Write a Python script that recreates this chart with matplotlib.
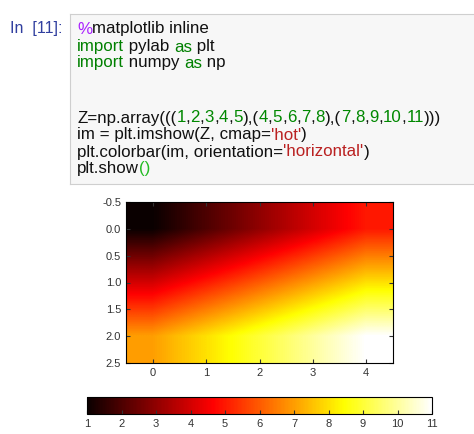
import matplotlib as mpl
mpl.use('Agg')
import matplotlib.pyplot as plt
import numpy as np

# data shown in the notebook cell
row0 = [1, 2, 3, 4, 5]
row1 = [4, 5, 6, 7, 8]
row2 = [7, 8, 9, 10, 11]
Z = np.array((row0, row1, row2))

W, H = 474, 434
plt.rcParams['font.family'] = ['Liberation Sans', 'DejaVu Sans']
fig = plt.figure(figsize=(W/100, H/100), dpi=100)

def px(x0, y0, x1, y1):
    # pixel box (top-left origin) -> figure fraction rect
    return [x0/W, 1 - y1/H, (x1-x0)/W, (y1-y0)/H]

# code cell background
cell = fig.add_axes(px(70, 14, 476, 184))
cell.set_facecolor('#f7f7f7')
cell.set_xticks([]); cell.set_yticks([])
for s in cell.spines.values():
    s.set_color('#cfcfcf')

fig.text(10/W, 1 - 33/H, 'In  [11]:', color='#303F9F', fontsize=11.5, va='baseline')

K, N, S, P, T = '#008000', '#008800', '#BA2121', '#AA22FF', '#111111'
lines = [
    (29, [('%', P), ('matplotlib inline', T)]),
    (47, [('import', K), (' pylab ', T), ('as', K), (' plt', T)]),
    (63, [('import', K), (' numpy ', T), ('as', K), (' np', T)]),
    (118, [('Z=np.array(((', T), ('1', N), (',', T), ('2', N), (',', T), ('3', N), (',', T),
           ('4', N), (',', T), ('5', N), ('),(', T), ('4', N), (',', T), ('5', N), (',', T),
           ('6', N), (',', T), ('7', N), (',', T), ('8', N), ('),(', T), ('7', N), (',', T),
           ('8', N), (',', T), ('9', N), (',', T), ('10', N), (',', T), ('11', N), (')))', T)]),
    (135, [('im = plt.imshow(Z, cmap=', T), ("'hot'", S), (')', T)]),
    (152, [('plt.colorbar(im, orientation=', T), ("'horizontal'", S), (')', T)]),
    (168, [('plt.show', T), ('()', '#22bb22')]),
]
FS = 12.2
fig.canvas.draw()
r = fig.canvas.get_renderer()

def width(s):
    # trailing spaces are dropped from extents, so pad with a bar
    t = fig.text(0, 0, s + '|', fontsize=FS)
    b = fig.text(0, 0, '|', fontsize=FS)
    w = t.get_window_extent(r).width - b.get_window_extent(r).width
    t.remove(); b.remove()
    return w

for y, toks in lines:
    prefix = ''
    for s, c in toks:
        x = 77 + (width(prefix) if prefix else 0)
        fig.text(x/W, 1 - (y + 4.5)/H, s, color=c, fontsize=FS, va='baseline')
        prefix += s

mpl.rcParams['xtick.direction'] = 'in'
mpl.rcParams['ytick.direction'] = 'in'
ax = fig.add_axes(px(126, 202, 393, 363))
im = ax.imshow(Z, cmap='hot', interpolation='bilinear', aspect='auto')
ax.set_xticks(range(5))
ax.set_yticks(np.arange(-0.5, 2.6, 0.5))
ax.set_yticklabels(['%.1f' % v for v in np.arange(-0.5, 2.6, 0.5)])
ax.tick_params(top=True, right=True, labelsize=8, colors='#333333', length=3)

cax = fig.add_axes(px(87, 397, 432, 414))
cb = fig.colorbar(im, cax=cax, orientation='horizontal')
cb.set_ticks(range(1, 12))
cax.tick_params(labelsize=8, colors='#333333', length=3, direction='in')

fig.savefig('out.png', dpi=100)
